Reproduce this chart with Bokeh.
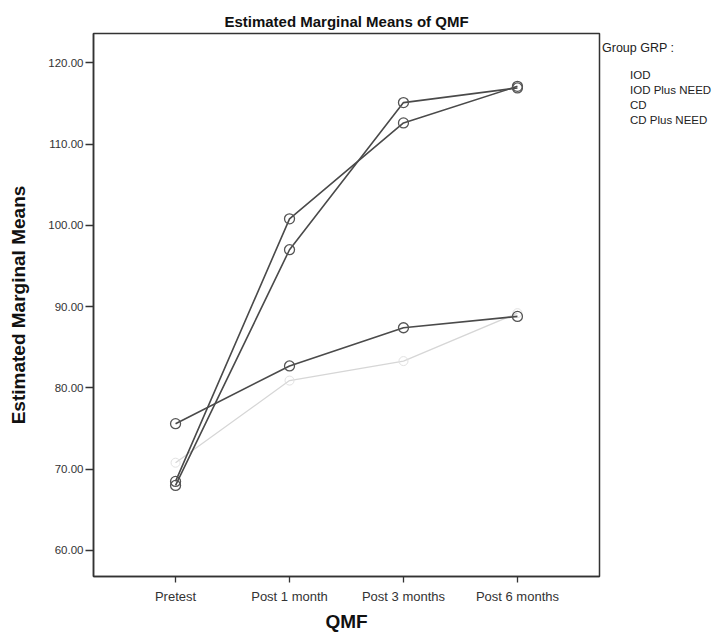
from bokeh.plotting import figure
from bokeh.layouts import row
from bokeh.models import FixedTicker, NumeralTickFormatter, Legend, LegendItem
from bokeh.embed import file_html
from bokeh.resources import INLINE

# ---- data ----
categories = ["Pretest", "Post 1 month", "Post 3 months", "Post 6 months"]
x_pos = [0, 1, 2, 3]
iod = [68.5, 100.8, 112.6, 117.1]
iod_plus_need = [75.6, 82.7, 87.4, 88.8]
cd = [70.8, 80.9, 83.3, 89.2]
cd_plus_need = [68.0, 97.0, 115.1, 116.9]
group_names = ["IOD", "IOD Plus NEED", "CD", "CD Plus NEED"]
y_ticks = [60, 70, 80, 90, 100, 110, 120]

FONT = "Liberation Sans"
DARK = "#4a4a4a"
LIGHT = "#d6d6d6"
H = 634

p = figure(width=602, height=H, output_backend="svg", toolbar_location=None,
           x_range=(-0.72, 3.72), y_range=(56.8, 123.6),
           min_border_left=93, min_border_right=3, min_border_top=33,
           min_border_bottom=56, background_fill_color="white",
           border_fill_color="white")

p.title.text = "Estimated Marginal Means of QMF"
p.title.align = "center"
p.title.vertical_align = "top"
p.title.text_font = FONT
p.title.text_font_size = "15px"
p.title.text_font_style = "bold"
p.title.text_color = "#111111"
p.title.offset = 0
p.title.standoff = 4

p.xgrid.visible = False
p.ygrid.visible = False
p.outline_line_color = "#333333"
p.outline_line_width = 1.5

# lines (light series first)
p.line(x_pos, cd, line_color=LIGHT, line_width=1.3)
p.scatter(x_pos, cd, size=9, marker="circle", fill_color=None, line_color="#e2e2e2", line_width=1)
p.line(x_pos, iod_plus_need, line_color=DARK, line_width=1.6)
p.scatter(x_pos, iod_plus_need, size=10, marker="circle", fill_color=None, line_color="#555555", line_width=1.3)
p.line(x_pos, iod, line_color=DARK, line_width=1.6)
p.scatter(x_pos, iod, size=10, marker="circle", fill_color=None, line_color="#555555", line_width=1.3)
p.line(x_pos, cd_plus_need, line_color=DARK, line_width=1.6)
p.scatter(x_pos, cd_plus_need, size=10, marker="circle", fill_color=None, line_color="#555555", line_width=1.3)

# y axis
p.yaxis.ticker = FixedTicker(ticks=y_ticks)
p.yaxis.formatter = NumeralTickFormatter(format="0.00")
p.yaxis.axis_label = "Estimated Marginal Means"
p.yaxis.axis_label_text_font = FONT
p.yaxis.axis_label_text_font_size = "19px"
p.yaxis.axis_label_text_font_style = "bold"
p.yaxis.axis_label_text_color = "#111111"
p.yaxis.axis_label_standoff = 16
p.yaxis.major_label_text_font = FONT
p.yaxis.major_label_text_font_size = "11.5px"
p.yaxis.major_label_text_color = "#333333"
p.yaxis.major_label_standoff = 2
p.yaxis.major_tick_out = 8
p.yaxis.major_tick_in = 0
p.yaxis.minor_tick_out = 0
p.yaxis.minor_tick_in = 0
p.yaxis.axis_line_color = "#333333"
p.yaxis.axis_line_width = 1.5
p.yaxis.major_tick_line_color = "#333333"
p.yaxis.major_tick_line_width = 1.3

# x axis
p.xaxis.ticker = FixedTicker(ticks=x_pos)
p.xaxis.major_label_overrides = {x: c for x, c in zip(x_pos, categories)}
p.xaxis.axis_label = "QMF"
p.xaxis.axis_label_text_font = FONT
p.xaxis.axis_label_text_font_size = "19px"
p.xaxis.axis_label_text_font_style = "bold"
p.xaxis.axis_label_text_color = "#111111"
p.xaxis.axis_label_standoff = 4
p.xaxis.major_label_text_font = FONT
p.xaxis.major_label_text_font_size = "13px"
p.xaxis.major_label_text_color = "#333333"
p.xaxis.major_label_standoff = 6
p.xaxis.major_tick_out = 6
p.xaxis.major_tick_in = 0
p.xaxis.minor_tick_out = 0
p.xaxis.minor_tick_in = 0
p.xaxis.axis_line_color = "#333333"
p.xaxis.axis_line_width = 1.5
p.xaxis.major_tick_line_color = "#333333"
p.xaxis.major_tick_line_width = 1.3

# ---- legend panel (separate figure to the right of the frame) ----
lg = figure(width=118, height=H, output_backend="svg", toolbar_location=None,
            x_range=(0, 1), y_range=(0, 1), x_axis_type=None, y_axis_type=None,
            min_border_left=0, min_border_right=0, min_border_top=33,
            min_border_bottom=0, outline_line_color=None,
            background_fill_color="white", border_fill_color="white")
lg.xgrid.visible = False
lg.ygrid.visible = False

# legend sample styles (as shown in the reference legend)
l1 = lg.line([], [], line_color="#8a8a8a", line_width=1.2)
l2 = lg.line([], [], line_color="#8a8a8a", line_width=1.2, line_dash="3 2")
l3 = lg.line([], [], line_color="#eeeeee", line_width=1.0)
l4 = lg.line([], [], line_color="#333333", line_width=1.3)

legend = Legend(items=[LegendItem(label=group_names[0], renderers=[l1]),
                       LegendItem(label=group_names[1], renderers=[l2]),
                       LegendItem(label=group_names[2], renderers=[l3]),
                       LegendItem(label=group_names[3], renderers=[l4])],
                title="Group GRP :", title_text_font=FONT, title_text_font_size="12.5px",
                title_text_font_style="normal", title_text_color="#222222",
                title_standoff=14,
                label_text_font=FONT, label_text_font_size="11.5px", label_text_color="#222222",
                glyph_width=25, glyph_height=12, label_height=12, spacing=3,
                label_standoff=3, padding=0, margin=0, border_line_alpha=0,
                background_fill_alpha=0, location=(0, 450))
lg.add_layout(legend)

layout = row(p, lg, spacing=0)
open("out.html", "w").write(file_html(layout, INLINE))
